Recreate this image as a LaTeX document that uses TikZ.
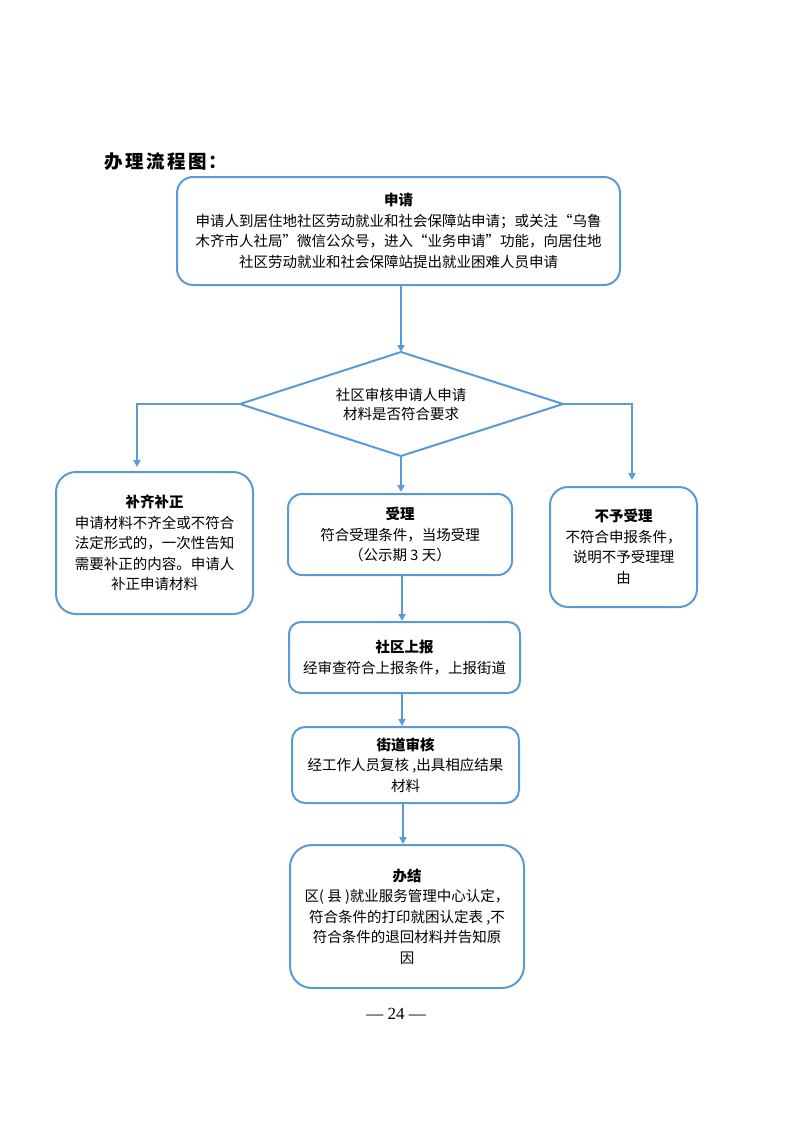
\documentclass[tikz,border=0pt]{standalone}
\usepackage{fontspec}
\setmainfont{Liberation Serif}
\newfontfamily\cjk{Noto Sans CJK SC}
\usetikzlibrary{arrows.meta}
\definecolor{flowblue}{HTML}{5B9BD5}
\begin{document}
\begin{tikzpicture}[x=1pt,y=-1pt,
  box/.style={draw=flowblue,line width=2pt,rounded corners=16pt,align=center,inner sep=0pt,
    font=\cjk\fontsize{14.5}{20.5}\selectfont},
  diatext/.style={align=center,inner sep=0pt,font=\cjk\fontsize{14.5}{19.5}\selectfont},
  diaedge/.style={draw=flowblue,line width=2pt,line join=miter},
  arr/.style={draw=flowblue,line width=2pt,-{Triangle[length=7pt,width=7pt]}}]
\useasboundingbox (0,0) rectangle (793,1122);
\node[anchor=west,font=\cjk\bfseries\fontsize{18.5}{22}\selectfont] (title) at (101,162)
  {办\kern2.5pt理\kern2.5pt流\kern2.5pt程\kern2.5pt图\kern1pt：};
\node[box,minimum width=443pt,minimum height=108pt] (apply) at (398.5,231)
  {\textbf{申请}\\申请人到居住地社区劳动就业和社会保障站申请；或关注“乌鲁\\木齐市人社局”微信公众号，进入“业务申请”功能，向居住地\\社区劳动就业和社会保障站提出就业困难人员申请};
\coordinate (cN) at (401,352);
\coordinate (cW) at (240,404);
\coordinate (cS) at (401,456);
\coordinate (cE) at (563,404);
\draw[diaedge] (cN) -- (cE) -- (cS) -- (cW) -- cycle;
\node[diatext] (check) at (401,404.5) {社区审核申请人申请\\材料是否符合要求};
\node[box,minimum width=197pt,minimum height=142pt,rounded corners=20pt] (fix) at (154.5,543)
  {\textbf{补齐补正}\\申请材料不齐全或不符合\\法定形式的，一次性告知\\需要补正的内容。申请人\\补正申请材料};
\node[box,minimum width=224pt,minimum height=81pt,rounded corners=14pt] (accept) at (400,534.5)
  {\textbf{受理}\\符合受理条件，当场受理\\（公示期 3 天）};
\node[box,minimum width=147pt,minimum height=120pt,rounded corners=18pt] (reject) at (623.5,547)
  {\textbf{不予受理}\\不符合申报条件，\\说明不予受理理\\由};
\node[box,minimum width=231pt,minimum height=71pt,rounded corners=12pt] (report) at (404.5,657.5)
  {\textbf{社区上报}\\经审查符合上报条件，上报街道};
\node[box,minimum width=227pt,minimum height=76pt,rounded corners=13pt] (street) at (405.5,765)
  {\textbf{街道审核}\\经工作人员复核 ,出具相应结果\\材料};
\node[box,minimum width=234pt,minimum height=143pt,rounded corners=22pt] (done) at (407,916.5)
  {\textbf{办结}\\区( 县 )就业服务管理中心认定，\\符合条件的打印就困认定表 ,不\\符合条件的退回材料并告知原\\因};
\node[font=\fontsize{17}{20}\selectfont] (page) at (396,1014) {— 24 —};
\draw[arr] (cN |- apply.south) -- (cN);
\draw[arr,shorten >=5pt] (cW) -| (137,472) coordinate (fixtop);
\draw[arr,shorten >=7pt] (cE) -| (632,487) coordinate (rejtop);
\draw[arr,shorten >=1pt] (cS) -- (cS |- accept.north);
\draw[arr] (402,575) coordinate (a1) -- (a1 |- report.north);
\draw[arr] (402,693) coordinate (a2) -- (a2 |- street.north);
\draw[arr] (403,803) coordinate (a3) -- (403,844) coordinate (a4);
\end{tikzpicture}
\end{document}
